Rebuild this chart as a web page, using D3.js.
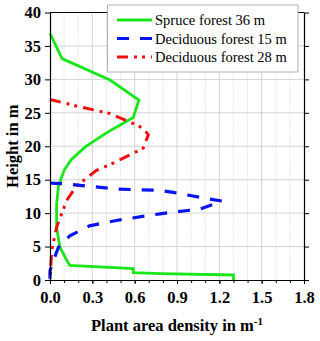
<!DOCTYPE html>
<html>
<head>
<meta charset="utf-8">
<script src="https://cdn.jsdelivr.net/npm/d3@7"></script>
<style>
  body { margin: 0; background: #fff; }
  #chart { width: 320px; height: 341px; }
</style>
</head>
<body>
<div id="chart"></div>
<script>
// Spruce forest 36 m (density, height)
const spruceX = [0.0, 0.085, 0.425, 0.63, 0.59, 0.40, 0.25, 0.15, 0.10, 0.06, 0.047, 0.047, 0.07, 0.12, 0.14, 0.59, 0.59, 0.78, 1.30, 1.30];
const spruceY = [36.9, 33.1, 29.9, 26.9, 24.3, 22.0, 19.9, 18.0, 16.4, 14.0, 11.4, 7.9, 4.9, 2.9, 2.2, 1.7, 1.1, 0.95, 0.75, 0.0];

// Deciduous forest 15 m
const decid15X = [0.0, 0.1, 0.47, 0.78, 0.874, 1.13, 1.22, 1.06, 0.78, 0.47, 0.28, 0.14, 0.06, 0.024, 0.0, 0.0];
const decid15Y = [14.5, 14.4, 13.6, 13.4, 13.1, 12.1, 11.8, 10.6, 9.9, 8.9, 8.1, 6.6, 4.9, 2.9, 1.4, 0.0];

// Deciduous forest 28 m
const decid28X = [0.0, 0.21, 0.425, 0.59, 0.66, 0.697, 0.66, 0.46, 0.33, 0.19, 0.118, 0.047, 0.012, 0.0];
const decid28Y = [27.0, 25.9, 24.9, 23.4, 22.7, 21.7, 19.7, 17.6, 16.4, 14.1, 11.9, 7.9, 4.4, 0.0];

const seriesNames = ["Spruce forest 36 m", "Deciduous forest 15 m", "Deciduous forest 28 m"];
const xTicks = [0.0, 0.3, 0.6, 0.9, 1.2, 1.5, 1.8];
const yTicks = [0, 5, 10, 15, 20, 25, 30, 35, 40];

const FONT = "Liberation Serif";

const margin = { top: 12.5, right: 16, bottom: 61, left: 50 };
const width = 320, height = 341;
const innerW = width - margin.left - margin.right;
const innerH = height - margin.top - margin.bottom;

const svg = d3.select("#chart").append("svg")
  .attr("width", width)
  .attr("height", height)
  .attr("font-family", FONT);

const g = svg.append("g")
  .attr("transform", `translate(${margin.left}, ${margin.top})`);

const x = d3.scaleLinear().domain([0, 1.8]).range([0, innerW]);
const y = d3.scaleLinear().domain([0, 40]).range([innerH, 0]);

// minor vertical grid
g.append("g").selectAll("line")
  .data(d3.range(0.1, 1.8, 0.1).filter(v => Math.abs(v / 0.3 - Math.round(v / 0.3)) > 0.01))
  .join("line")
  .attr("x1", d => x(d)).attr("x2", d => x(d))
  .attr("y1", 0).attr("y2", innerH)
  .style("stroke", "#e6e6e6")
  .style("stroke-width", 1)
  .attr("stroke-dasharray", "2,1");

// major grid
g.append("g").selectAll("line")
  .data(xTicks.slice(1, -1))
  .join("line")
  .attr("x1", d => x(d)).attr("x2", d => x(d))
  .attr("y1", 0).attr("y2", innerH)
  .style("stroke", "#d4d4d4");

g.append("g").selectAll("line")
  .data(yTicks.slice(1, -1))
  .join("line")
  .attr("x1", 0).attr("x2", innerW)
  .attr("y1", d => y(d)).attr("y2", d => y(d))
  .style("stroke", "#d4d4d4");

// series lines
const line = d3.line().x(d => x(d[0])).y(d => y(d[1]));
const series = [
  { xs: spruceX, ys: spruceY, color: "#19e619", dash: null, w: 2.8 },
  { xs: decid15X, ys: decid15Y, color: "#0a14f0", dash: "12,11", w: 3.2 },
  { xs: decid28X, ys: decid28Y, color: "#f01010", dash: "11,6,3,5,3,6", w: 3 }
];

// draw order: spruce first, then red, then blue
[series[0], series[2], series[1]].forEach(s => {
  g.append("path")
    .datum(d3.zip(s.xs, s.ys))
    .attr("d", line)
    .style("fill", "none")
    .style("stroke", s.color)
    .style("stroke-width", s.w)
    .attr("stroke-dasharray", s.dash);
});

// axes
const fontSpec = a => {
  a.attr("font-family", FONT).attr("font-size", 16.5).attr("font-weight", "bold");
  a.selectAll("text").attr("fill", "#000");
};

g.append("g")
  .attr("transform", `translate(0, ${innerH})`)
  .call(d3.axisBottom(x).tickValues(xTicks).tickFormat(d3.format(".1f")).tickSizeInner(4).tickSizeOuter(0).tickPadding(7))
  .call(fontSpec)
  .call(a => a.select(".domain").style("stroke", "#000").style("stroke-width", 1.2));

// minor x ticks
g.append("g")
  .attr("transform", `translate(0, ${innerH})`)
  .call(d3.axisBottom(x).tickValues(d3.range(0.1, 1.8, 0.1)).tickFormat("").tickSizeInner(3).tickSizeOuter(0))
  .call(a => a.select(".domain").remove());

g.append("g")
  .call(d3.axisLeft(y).tickValues(yTicks).tickSizeInner(5).tickSizeOuter(0).tickPadding(4))
  .call(fontSpec)
  .call(a => a.select(".domain").style("stroke", "#000").style("stroke-width", 1.2));

g.append("g")
  .attr("transform", `translate(${innerW}, 0)`)
  .call(d3.axisLeft(y).tickValues(yTicks).tickSizeInner(-5).tickSizeOuter(0).tickFormat(""))
  .call(a => a.select(".domain").style("stroke", "#000").style("stroke-width", 1.2));

g.append("line")
  .attr("x1", 0).attr("x2", innerW).attr("y1", 0).attr("y2", 0)
  .style("stroke", "#000").style("stroke-width", 1.2);

// axis titles
const xTitle = svg.append("text")
  .attr("x", margin.left + innerW / 2)
  .attr("y", 331)
  .attr("text-anchor", "middle")
  .attr("font-size", 16.5)
  .attr("font-weight", "bold")
  .text("Plant area density in m");
xTitle.append("tspan")
  .attr("dy", -6)
  .attr("font-size", 11)
  .text("-1");

svg.append("text")
  .attr("transform", `translate(18, ${margin.top + innerH / 2}) rotate(-90)`)
  .attr("text-anchor", "middle")
  .attr("font-size", 16.5)
  .attr("font-weight", "bold")
  .text("Height in m");

// legend
const legend = svg.append("g").attr("transform", "translate(107.5, 5)");
legend.append("rect")
  .attr("width", 190.5).attr("height", 67)
  .style("fill", "#fff")
  .style("stroke", "#b0b0b0");

series.forEach((s, i) => {
  const ly = 15 + i * 18.5;
  legend.append("line")
    .attr("x1", 9.5).attr("x2", 44.5)
    .attr("y1", ly).attr("y2", ly)
    .style("stroke", s.color)
    .style("stroke-width", s.w)
    .attr("stroke-dasharray", s.dash);
  legend.append("text")
    .attr("x", 47.5).attr("y", ly + 5)
    .attr("font-size", 14.5)
    .text(seriesNames[i]);
});
</script>
</body>
</html>
